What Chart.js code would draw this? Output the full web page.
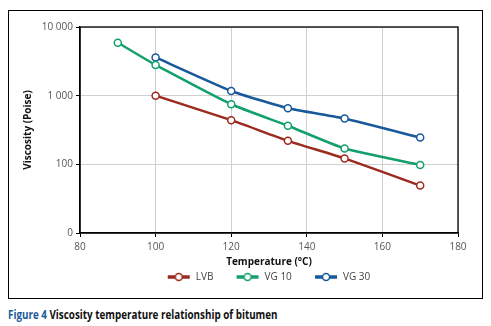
<!DOCTYPE html>
<html>
<head>
<meta charset="utf-8">
<script src="https://cdn.jsdelivr.net/npm/chart.js@4"></script>
<style>
  html, body { margin: 0; padding: 0; background: #fff; width: 491px; height: 326px; overflow: hidden; }
  .frame { position: absolute; left: 8px; top: 10px; width: 473px; height: 287px; border: 1px solid #000; }
  .frame canvas { display: block; }
  .caption { position: absolute; left: 8px; top: 306px; font: bold 12px "Open Sans", sans-serif; color: #111; white-space: nowrap; transform: scaleX(0.82); transform-origin: 0 0; }
  .caption span { color: #1a5a9a; }
</style>
</head>
<body>
<div class="frame"><canvas id="visc" width="473" height="287"></canvas></div>
<div class="caption"><span>Figure 4</span> Viscosity temperature relationship of bitumen</div>
<script>
// temperatures (°C) and viscosities (Poise)
const lvbTemp = [100, 120, 135, 150, 170];
const lvbVisc = [1000, 440, 220, 122, 49];

const vg10Temp = [90, 100, 120, 135, 150, 170];
const vg10Visc = [5900, 2800, 750, 365, 170, 98];

const vg30Temp = [100, 120, 135, 150, 170];
const vg30Visc = [3600, 1170, 655, 465, 245];

const yTicks = [10, 100, 1000, 10000];
const yTickLabels = ['0', '100', '1 000', '10 000'];

const FONT = '"Open Sans", sans-serif';

function pairs(xs, ys) {
  return xs.map((x, i) => ({ x: x, y: ys[i] }));
}

// little "line with open circle" marker for the legend
function legendMarker(color) {
  const c = document.createElement('canvas');
  c.width = 24; c.height = 10;
  const g = c.getContext('2d');
  g.strokeStyle = color;
  g.lineWidth = 3.5;
  g.beginPath(); g.moveTo(1, 5); g.lineTo(23, 5); g.stroke();
  g.fillStyle = '#fff';
  g.lineWidth = 1.5;
  g.beginPath(); g.arc(12, 5, 3.5, 0, Math.PI * 2); g.fill(); g.stroke();
  return c;
}

function series(label, xs, ys, color) {
  return {
    label: label,
    data: pairs(xs, ys),
    borderColor: color,
    backgroundColor: '#fff',
    borderWidth: 2.5,
    tension: 0.15,
    pointRadius: 3.5,
    pointBorderWidth: 1.5,
    pointBackgroundColor: '#fff',
    pointBorderColor: color,
    pointStyle: 'circle',
    legendStyle: legendMarker(color)
  };
}

// black box round the plot area
const plotBox = {
  id: 'plotBox',
  afterDraw(chart) {
    const a = chart.chartArea, g = chart.ctx;
    g.save();
    g.strokeStyle = '#000';
    g.lineWidth = 1.3;
    g.strokeRect(a.left, a.top, a.right - a.left, a.bottom - a.top);
    g.restore();
  }
};

// the legend sits centred under the plot, not under the whole canvas
const legendShift = {
  id: 'legendShift',
  afterLayout(chart) {
    const dx = 35;
    chart.legend.left += dx;
    chart.legend.right += dx;
  }
};

new Chart(document.getElementById('visc'), {
  type: 'line',
  data: {
    datasets: [
      series('LVB', lvbTemp, lvbVisc, '#9c2a1e'),
      series('VG 10', vg10Temp, vg10Visc, '#14a06a'),
      series('VG 30', vg30Temp, vg30Visc, '#17599b')
    ]
  },
  plugins: [plotBox, legendShift],
  options: {
    responsive: false,
    animation: false,
    layout: { padding: { top: 16, right: 24, bottom: 6, left: 0 } },
    plugins: {
      tooltip: { enabled: false },
      legend: {
        position: 'bottom',
        labels: {
          font: { family: FONT, size: 10 },
          color: '#444',
          usePointStyle: true,
          pointStyleWidth: 24,
          padding: 4,
          generateLabels: (chart) => chart.data.datasets.map((ds, i) => ({
            text: ds.label + (i < 2 ? '       ' : ''),
            pointStyle: ds.legendStyle,
            fontColor: '#444',
            datasetIndex: i,
            hidden: false,
            lineWidth: 0
          }))
        }
      }
    },
    scales: {
      x: {
        type: 'linear',
        min: 80,
        max: 180,
        ticks: { stepSize: 20, color: '#555', font: { family: FONT, size: 10 }, padding: 4 },
        grid: { color: '#cfcfcf', tickColor: '#000', tickLength: 4 },
        border: { color: '#000', width: 1.3 },
        title: { display: true, text: 'Temperature (°C)', color: '#111', font: { family: FONT, size: 10, weight: 'bold' }, padding: { top: 2, bottom: 0 } },
        afterFit: (s) => { s.height = 35; }
      },
      y: {
        type: 'logarithmic',
        min: 10,
        max: 10000,
        afterBuildTicks: (s) => { s.ticks = yTicks.map(v => ({ value: v })); },
        ticks: {
          color: '#555',
          font: { family: FONT, size: 10 },
          padding: 3,
          callback: (v) => yTickLabels[yTicks.indexOf(v)]
        },
        grid: { color: '#cfcfcf', tickColor: '#000', tickLength: 4 },
        border: { color: '#000', width: 1.3 },
        title: { display: true, text: 'Viscosity (Poise)', color: '#111', font: { family: FONT, size: 10, weight: 'bold' }, padding: { top: 13, bottom: 0 } },
        afterFit: (s) => { s.width = 71; }
      }
    }
  }
});
</script>
</body>
</html>
